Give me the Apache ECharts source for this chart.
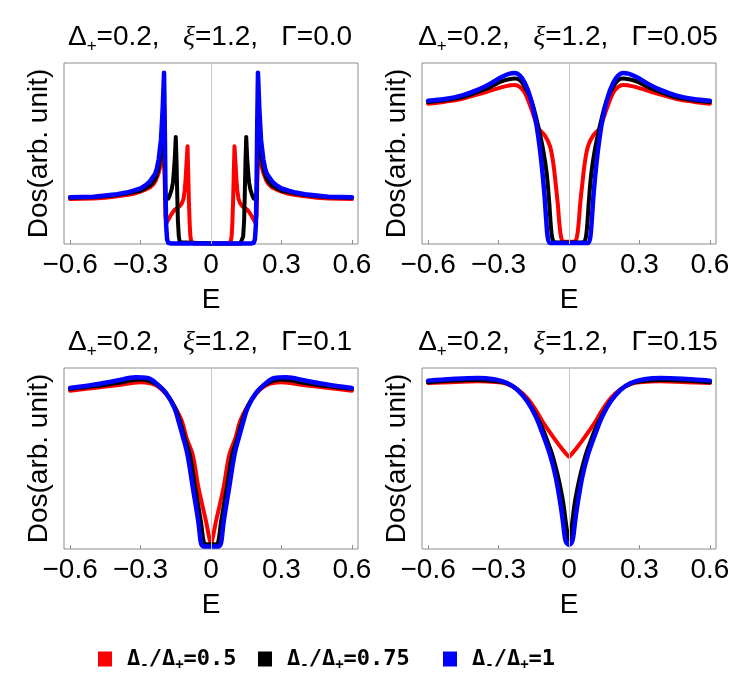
<!DOCTYPE html>
<html><head><meta charset="utf-8">
<script src="https://cdn.jsdelivr.net/npm/echarts@6/dist/echarts.min.js"></script>
<style>html,body{margin:0;padding:0;background:#fff}#c{width:751px;height:698px}</style>
</head><body><div id="c"></div><script>
// ---- data (E, DOS in arbitrary units) ----
const gammaLabels = ['0.0', '0.05', '0.1', '0.15'];
const ratioLabels = ['0.5', '0.75', '1'];
const tickValues = [-0.6, -0.3, 0, 0.3, 0.6];
const yMaxes = [3.871, 1.263, 1.124, 1.075];

// Gamma = 0.0
const p1Red = [[-0.6,0.96],[-0.5,0.975],[-0.45,0.99],[-0.4,1.02],[-0.36,1.045],[-0.33,1.075],[-0.3,1.12],[-0.28,1.16],[-0.26,1.21],[-0.245,1.28],[-0.235,1.36],[-0.223,1.52],[-0.213,1.72],[-0.206,1.88],[-0.2,1.98],[-0.197,1.3],[-0.194,0.6],[-0.19,0.45],[-0.182,0.52],[-0.173,0.6],[-0.163,0.68],[-0.153,0.74],[-0.143,0.77],[-0.133,0.81],[-0.124,0.87],[-0.117,0.97],[-0.112,1.15],[-0.108,1.4],[-0.104,1.75],[-0.1,2.09],[-0.097,1.5],[-0.094,0.9],[-0.091,0.45],[-0.088,0.18],[-0.084,0.05],[-0.078,0.015],[-0.07,0.012],[0,0.012],
  [0.07,0.012],[0.078,0.015],[0.084,0.05],[0.088,0.18],[0.091,0.45],[0.094,0.9],[0.097,1.5],[0.1,2.09],[0.104,1.75],[0.108,1.4],[0.112,1.15],[0.117,0.97],[0.124,0.87],[0.133,0.81],[0.143,0.77],[0.153,0.74],[0.163,0.68],[0.173,0.6],[0.182,0.52],[0.19,0.45],[0.194,0.6],[0.197,1.3],[0.2,1.98],[0.206,1.88],[0.213,1.72],[0.223,1.52],[0.235,1.36],[0.245,1.28],[0.26,1.21],[0.28,1.16],[0.3,1.12],[0.33,1.075],[0.36,1.045],[0.4,1.02],[0.45,0.99],[0.5,0.975],[0.6,0.96]];
const p1Black = [[-0.6,0.99],[-0.5,1.0],[-0.45,1.02],[-0.4,1.05],[-0.36,1.08],[-0.33,1.11],[-0.3,1.14],[-0.28,1.19],[-0.26,1.25],[-0.245,1.33],[-0.235,1.42],[-0.223,1.62],[-0.213,1.95],[-0.206,2.25],[-0.2,2.51],[-0.197,1.6],[-0.194,0.95],[-0.19,0.93],[-0.182,0.97],[-0.175,1.05],[-0.168,1.16],[-0.162,1.32],[-0.158,1.55],[-0.154,1.85],[-0.15,2.29],[-0.147,1.8],[-0.144,1.1],[-0.141,0.5],[-0.137,0.16],[-0.133,0.04],[-0.125,0.012],[0,0.012],
  [0.125,0.012],[0.133,0.04],[0.137,0.16],[0.141,0.5],[0.144,1.1],[0.147,1.8],[0.15,2.29],[0.154,1.85],[0.158,1.55],[0.162,1.32],[0.168,1.16],[0.175,1.05],[0.182,0.97],[0.19,0.93],[0.194,0.95],[0.197,1.6],[0.2,2.51],[0.206,2.25],[0.213,1.95],[0.223,1.62],[0.235,1.42],[0.245,1.33],[0.26,1.25],[0.28,1.19],[0.3,1.14],[0.33,1.11],[0.36,1.08],[0.4,1.05],[0.45,1.02],[0.5,1.0],[0.6,0.99]];
const p1Blue = [[-0.6,1.0],[-0.5,1.01],[-0.45,1.035],[-0.4,1.065],[-0.36,1.1],[-0.33,1.14],[-0.3,1.19],[-0.28,1.25],[-0.26,1.34],[-0.245,1.45],[-0.237,1.51],[-0.23,1.63],[-0.223,1.8],[-0.213,2.23],[-0.206,2.87],[-0.2,3.66],[-0.197,2.6],[-0.194,1.2],[-0.191,0.4],[-0.187,0.1],[-0.182,0.025],[-0.17,0.012],[0,0.012],
  [0.17,0.012],[0.182,0.025],[0.187,0.1],[0.191,0.4],[0.194,1.2],[0.197,2.6],[0.2,3.66],[0.206,2.87],[0.213,2.23],[0.223,1.8],[0.23,1.63],[0.237,1.51],[0.245,1.45],[0.26,1.34],[0.28,1.25],[0.3,1.19],[0.33,1.14],[0.36,1.1],[0.4,1.065],[0.45,1.035],[0.5,1.01],[0.6,1.0]];

// Gamma = 0.05
const p2Red = [[-0.6,0.979],[-0.529,0.993],[-0.458,1.012],[-0.387,1.044],[-0.33,1.072],[-0.273,1.1],[-0.23,1.11],[-0.209,1.096],[-0.188,1.054],[-0.159,0.937],[-0.131,0.81],[-0.102,0.755],[-0.081,0.683],[-0.067,0.564],[-0.057,0.424],[-0.048,0.284],[-0.041,0.144],[-0.034,0.051],[-0.024,0.016],[0,0.015],
  [0.024,0.016],[0.034,0.051],[0.041,0.144],[0.048,0.284],[0.057,0.424],[0.067,0.564],[0.081,0.683],[0.102,0.755],[0.131,0.81],[0.159,0.937],[0.188,1.054],[0.209,1.096],[0.23,1.11],[0.273,1.1],[0.33,1.072],[0.387,1.044],[0.458,1.012],[0.529,0.993],[0.6,0.979]];
const p2Black = [[-0.6,0.991],[-0.529,1.003],[-0.458,1.023],[-0.387,1.061],[-0.33,1.1],[-0.287,1.135],[-0.23,1.154],[-0.209,1.142],[-0.188,1.096],[-0.159,0.995],[-0.131,0.82],[-0.11,0.657],[-0.095,0.494],[-0.085,0.308],[-0.077,0.121],[-0.071,0.04],[-0.063,0.014],[-0.05,0.01],[0,0.01],
  [0.05,0.01],[0.063,0.014],[0.071,0.04],[0.077,0.121],[0.085,0.308],[0.095,0.494],[0.11,0.657],[0.131,0.82],[0.159,0.995],[0.188,1.096],[0.209,1.142],[0.23,1.154],[0.287,1.135],[0.33,1.1],[0.387,1.061],[0.458,1.023],[0.529,1.003],[0.6,0.991]];
const p2Blue = [[-0.6,1.0],[-0.529,1.012],[-0.458,1.035],[-0.387,1.077],[-0.33,1.124],[-0.287,1.166],[-0.252,1.189],[-0.23,1.193],[-0.209,1.175],[-0.188,1.124],[-0.166,1.03],[-0.145,0.89],[-0.131,0.75],[-0.117,0.564],[-0.105,0.354],[-0.097,0.168],[-0.091,0.051],[-0.083,0.009],[-0.07,0.007],[0,0.007],
  [0.07,0.007],[0.083,0.009],[0.091,0.051],[0.097,0.168],[0.105,0.354],[0.117,0.564],[0.131,0.75],[0.145,0.89],[0.166,1.03],[0.188,1.124],[0.209,1.175],[0.23,1.193],[0.252,1.189],[0.287,1.166],[0.33,1.124],[0.387,1.077],[0.458,1.035],[0.529,1.012],[0.6,1.0]];

// Gamma = 0.1
const p3Red = [[-0.6,0.983],[-0.5,1.0],[-0.4,1.017],[-0.3,1.035],[-0.235,1.017],[-0.192,0.963],[-0.156,0.886],[-0.124,0.793],[-0.104,0.689],[-0.078,0.585],[-0.053,0.378],[-0.021,0.17],[-0.006,0.06],[0,0.04],
  [0.006,0.06],[0.021,0.17],[0.053,0.378],[0.078,0.585],[0.104,0.689],[0.124,0.793],[0.156,0.886],[0.192,0.963],[0.235,1.017],[0.3,1.035],[0.4,1.017],[0.5,1.0],[0.6,0.983]];
const p3Black = [[-0.6,0.994],[-0.5,1.01],[-0.4,1.031],[-0.3,1.052],[-0.235,1.025],[-0.192,0.969],[-0.156,0.886],[-0.132,0.793],[-0.112,0.689],[-0.09,0.585],[-0.067,0.378],[-0.043,0.17],[-0.031,0.046],[-0.022,0.03],[0,0.029],
  [0.022,0.03],[0.031,0.046],[0.043,0.17],[0.067,0.378],[0.09,0.585],[0.112,0.689],[0.132,0.793],[0.156,0.886],[0.192,0.969],[0.235,1.025],[0.3,1.052],[0.4,1.031],[0.5,1.01],[0.6,0.994]];
const p3Blue = [[-0.6,1.0],[-0.5,1.02],[-0.4,1.046],[-0.32,1.066],[-0.27,1.062],[-0.235,1.031],[-0.192,0.969],[-0.156,0.876],[-0.138,0.793],[-0.118,0.689],[-0.1,0.585],[-0.077,0.378],[-0.054,0.17],[-0.044,0.046],[-0.038,0.022],[-0.03,0.015],[0,0.015],
  [0.03,0.015],[0.038,0.022],[0.044,0.046],[0.054,0.17],[0.077,0.378],[0.1,0.585],[0.118,0.689],[0.138,0.793],[0.156,0.876],[0.192,0.969],[0.235,1.031],[0.27,1.062],[0.32,1.066],[0.4,1.046],[0.5,1.02],[0.6,1.0]];

// Gamma = 0.15
const p4Red = [[-0.6,0.986],[-0.5,0.99],[-0.39,0.996],[-0.3,0.99],[-0.263,0.98],[-0.22,0.95],[-0.178,0.897],[-0.142,0.827],[-0.114,0.76],[-0.085,0.7],[-0.057,0.645],[-0.03,0.595],[-0.012,0.565],[0,0.548],
  [0.012,0.565],[0.03,0.595],[0.057,0.645],[0.085,0.7],[0.114,0.76],[0.142,0.827],[0.178,0.897],[0.22,0.95],[0.263,0.98],[0.3,0.99],[0.39,0.996],[0.5,0.99],[0.6,0.986]];
const p4Black = [[-0.6,0.99],[-0.5,1.0],[-0.39,1.004],[-0.3,0.995],[-0.263,0.982],[-0.22,0.946],[-0.178,0.881],[-0.142,0.798],[-0.114,0.72],[-0.085,0.615],[-0.071,0.56],[-0.05,0.45],[-0.036,0.361],[-0.024,0.27],[-0.014,0.163],[-0.006,0.09],[0,0.054],
  [0.006,0.09],[0.014,0.163],[0.024,0.27],[0.036,0.361],[0.05,0.45],[0.071,0.56],[0.085,0.615],[0.114,0.72],[0.142,0.798],[0.178,0.881],[0.22,0.946],[0.263,0.982],[0.3,0.995],[0.39,1.004],[0.5,1.0],[0.6,0.99]];
const p4Blue = [[-0.6,1.0],[-0.5,1.01],[-0.39,1.016],[-0.32,1.008],[-0.263,0.986],[-0.22,0.946],[-0.178,0.877],[-0.142,0.788],[-0.114,0.69],[-0.081,0.56],[-0.057,0.43],[-0.036,0.262],[-0.026,0.163],[-0.017,0.063],[-0.01,0.035],[0,0.024],
  [0.01,0.035],[0.017,0.063],[0.026,0.163],[0.036,0.262],[0.057,0.43],[0.081,0.56],[0.114,0.69],[0.142,0.788],[0.178,0.877],[0.22,0.946],[0.263,0.986],[0.32,1.008],[0.39,1.016],[0.5,1.01],[0.6,1.0]];

const panelData = [[p1Red, p1Black, p1Blue], [p2Red, p2Black, p2Blue], [p3Red, p3Black, p3Blue], [p4Red, p4Black, p4Blue]];

// ---- layout / style ----
const colors = ['#ff0000', '#000000', '#0000ff'];
const seriesNames = ['r0.5', 'r0.75', 'r1'];
const gridRects = [
  {left: 64, top: 63, width: 294, height: 181},
  {left: 422, top: 63, width: 294, height: 181},
  {left: 64, top: 368, width: 294, height: 181},
  {left: 422, top: 368, width: 294, height: 181}
];
const FONT = 'Liberation Sans, Arial, sans-serif';
const FS = 28;
const frameColor = '#8c8c8c';

const titleRich = {
  a: {fontSize: FS, fontWeight: 'normal', fontFamily: FONT, color: '#000'},
  s: {fontSize: 17, fontWeight: 'normal', fontFamily: FONT, color: '#000', padding: [18, 0, 0, 0]},
  i: {fontSize: FS, fontWeight: 'normal', fontFamily: 'Liberation Serif, serif', fontStyle: 'italic', color: '#000'}
};

const option = {
  animation: false,
  backgroundColor: '#fff',
  title: gridRects.map((g, i) => ({
    text: '{a|Δ}{s|+}{a|=0.2,   }{i|ξ}{a|=1.2,   Γ=' + gammaLabels[i] + '}',
    left: g.left + g.width / 2 - 6,
    top: g.top - 48,
    textAlign: 'center',
    textStyle: {fontWeight: 'normal', rich: titleRich}
  })),
  grid: gridRects.map(g => Object.assign({show: true, borderColor: frameColor, borderWidth: 1, backgroundColor: 'transparent', containLabel: false}, g)),
  xAxis: gridRects.map((g, i) => ({
    type: 'value', gridIndex: i, min: -0.626, max: 0.626,
    name: 'E', nameLocation: 'middle', nameGap: 42,
    nameTextStyle: {fontSize: FS, fontFamily: FONT, color: '#000'},
    axisLine: {show: false},
    splitLine: {show: false},
    axisTick: {show: true, inside: true, length: 4, lineStyle: {color: frameColor}, customValues: tickValues},
    axisLabel: {
      show: true, margin: 7, fontSize: FS, fontFamily: FONT, color: '#000',
      customValues: tickValues,
      formatter: v => v < 0 ? '\u2212' + String(Math.abs(v)) : (v === 0 ? '0' : String(v))
    }
  })),
  yAxis: gridRects.map((g, i) => ({
    type: 'value', gridIndex: i, min: 0, max: yMaxes[i],
    name: 'Dos(arb. unit)', nameLocation: 'middle', nameGap: 11, nameRotate: 90,
    nameTextStyle: {fontSize: FS, fontFamily: FONT, color: '#000'},
    axisLine: {show: false}, axisTick: {show: false}, axisLabel: {show: false}, splitLine: {show: false}
  })),
  legend: [0, 1, 2].map(k => ({
    data: [seriesNames[k]],
    left: [93, 253, 438][k], top: 643,
    icon: 'rect', itemWidth: 14, itemHeight: 15,
    selectedMode: false,
    formatter: () => '{d|Δ}{s|-}{d|/Δ}{s|+}{d|=' + ratioLabels[k] + '}',
    textStyle: {
      padding: [0, 0, 0, 10],
      rich: {
        d: {fontSize: 22, fontWeight: 'bold', fontFamily: 'DejaVu Sans Mono, monospace', color: '#000'},
        s: {fontSize: 14, fontWeight: 'bold', fontFamily: 'DejaVu Sans Mono, monospace', color: '#000', padding: [12, 0, 0, 0]}
      }
    }
  })),
  series: []
};

panelData.forEach((curves, p) => {
  option.series.push({
    type: 'line', xAxisIndex: p, yAxisIndex: p, data: [], silent: true, z: 1,
    markLine: {silent: true, symbol: ['none', 'none'], label: {show: false}, animation: false,
      lineStyle: {color: '#c8c8c8', width: 1, type: 'solid'}, data: [{xAxis: 0}]}
  });
  curves.forEach((d, k) => {
    option.series.push({
      name: seriesNames[k], type: 'line', xAxisIndex: p, yAxisIndex: p,
      data: d, showSymbol: false, symbol: 'none', color: colors[k],
      smooth: p === 0 ? false : 0.35,
      z: 2 + k, clip: false,
      lineStyle: {color: colors[k], width: k === 2 ? 4.5 : 4, join: 'round', cap: 'round'}
    });
  });
});

const chart = echarts.init(document.getElementById('c'), null, {renderer: 'canvas'});
chart.setOption(option);
</script></body></html>
